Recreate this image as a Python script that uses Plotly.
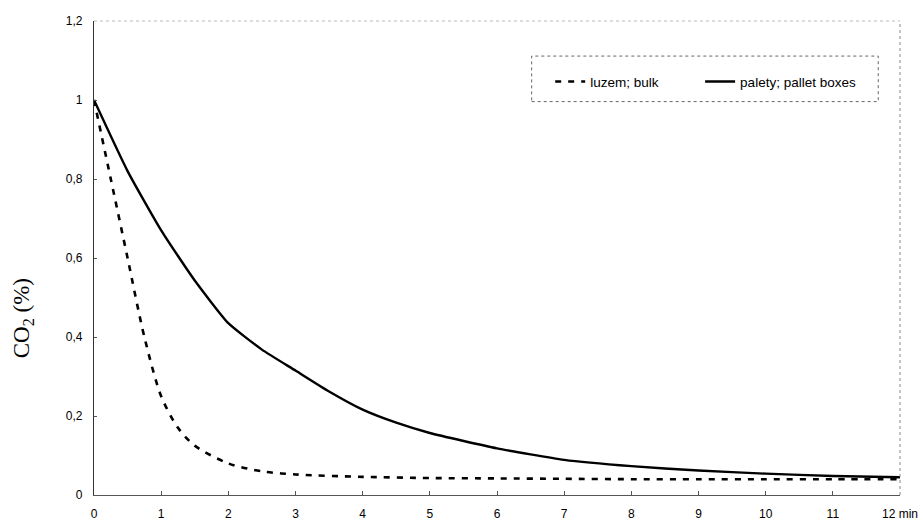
import plotly.graph_objects as go

# Data
x_bulk = [0, 0.25, 0.5, 0.75, 1, 1.25, 1.5, 2, 2.5, 3, 4, 5, 6, 7, 8, 9, 10, 11, 12]
y_bulk = [1.0, 0.80, 0.60, 0.40, 0.25, 0.17, 0.125, 0.08, 0.06, 0.052, 0.046, 0.043, 0.042, 0.041, 0.040, 0.040, 0.040, 0.040, 0.040]

x_pallet = [0, 0.5, 1, 1.5, 2, 2.5, 3, 3.5, 4, 4.5, 5, 6, 7, 8, 9, 10, 11, 12]
y_pallet = [1.0, 0.82, 0.67, 0.543, 0.435, 0.368, 0.315, 0.262, 0.216, 0.183, 0.157, 0.118, 0.089, 0.073, 0.062, 0.054, 0.048, 0.045]

x_tickvals = list(range(13))
x_ticktext = [str(i) for i in range(12)] + ["12 min"]

W, H = 921, 521
L, R, T, B = 94, 21, 21, 26

fig = go.Figure()
fig.add_trace(go.Scatter(
    x=x_bulk, y=y_bulk, mode="lines", name="luzem; bulk", legend="legend",
    line=dict(color="black", width=2.6, dash="6px,7px", shape="spline", smoothing=0.8),
))
fig.add_trace(go.Scatter(
    x=x_pallet, y=y_pallet, mode="lines", name="palety; pallet boxes", legend="legend2",
    line=dict(color="black", width=2.4, shape="spline", smoothing=0.5),
))

legend_common = dict(orientation="h", xanchor="left", yanchor="middle",
                     bgcolor="rgba(0,0,0,0)", borderwidth=0, font=dict(size=13.5))

fig.update_layout(
    width=W, height=H,
    margin=dict(l=L, r=R, t=T, b=B, autoexpand=False),
    paper_bgcolor="white", plot_bgcolor="white",
    separators=",.",
    font=dict(family="Liberation Sans, Arial, sans-serif", size=12, color="black"),
    showlegend=True,
    legend=dict(x=0.566, y=0.872, **legend_common),
    legend2=dict(x=0.752, y=0.872, **legend_common),
    xaxis=dict(
        range=[0, 12], tickvals=x_tickvals, ticktext=x_ticktext,
        showgrid=False, zeroline=False, showline=True, linecolor="#555", linewidth=1,
        ticks="inside", ticklen=4, tickcolor="#555", ticklabelstandoff=8,
        tickfont=dict(size=12), automargin=False,
    ),
    yaxis=dict(
        range=[0, 1.2], dtick=0.2, tick0=0,
        showgrid=False, zeroline=False, showline=True, linecolor="#333", linewidth=1.2,
        ticks="inside", ticklen=3, tickcolor="#555", ticklabelstandoff=8,
        tickfont=dict(size=12), automargin=False,
    ),
    annotations=[
        dict(text="CO<sub>2</sub> (%)", xref="paper", yref="paper", x=-0.088, y=0.373,
             xanchor="center", yanchor="middle", textangle=-90, showarrow=False,
             font=dict(family="Liberation Serif, Times New Roman, serif", size=23)),
    ],
    shapes=[
        # faint dotted top and right borders
        dict(type="line", xref="paper", yref="paper", x0=0, x1=1, y0=1, y1=1,
             line=dict(color="#bbb", width=1, dash="dot")),
        dict(type="line", xref="paper", yref="paper", x0=1, x1=1, y0=0, y1=1,
             line=dict(color="#888", width=1, dash="dot")),
        # legend box
        dict(type="rect", xref="paper", yref="paper", x0=0.543, x1=0.973, y0=0.830, y1=0.926,
             line=dict(color="#666", width=1, dash="dot")),
    ],
)

# remove the browser's default page margin so the 921x521 figure fills the window exactly
page_css = "document.body.style.margin='0';document.body.style.overflow='hidden';"
fig.write_html("out.html", post_script=page_css, config={"displayModeBar": False})
